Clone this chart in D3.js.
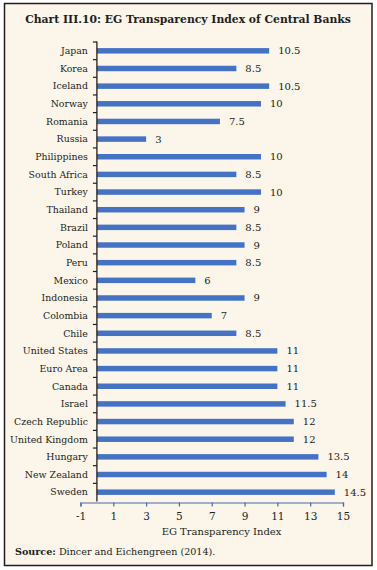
<!DOCTYPE html>
<html><head><meta charset="utf-8">
<script src="https://cdn.jsdelivr.net/npm/d3@7"></script>
<style>
html,body{margin:0;padding:0;background:#fff;}
svg{display:block;}
</style></head>
<body>
<script>
const categories = ["Japan","Korea","Iceland","Norway","Romania","Russia","Philippines","South Africa","Turkey","Thailand","Brazil","Poland","Peru","Mexico","Indonesia","Colombia","Chile","United States","Euro Area","Canada","Israel","Czech Republic","United Kingdom","Hungary","New Zealand","Sweden"];
const values = [10.5,8.5,10.5,10,7.5,3,10,8.5,10,9,8.5,9,8.5,6,9,7,8.5,11,11,11,11.5,12,12,13.5,14,14.5];
const xTicks = [-1,1,3,5,7,9,11,13,15];
const title = "Chart III.10: EG Transparency Index of Central Banks";
const xTitle = "EG Transparency Index";
const sourceLabel = "Source:";
const sourceText = " Dincer and Eichengreen (2014).";

const W = 377, H = 570;
const serif = "'DejaVu Serif', serif";
const svg = d3.select("body").append("svg").attr("width", W).attr("height", H);

svg.append("rect").attr("x", 4.5).attr("y", 3.5).attr("width", 367.5).attr("height", 562)
  .attr("fill", "#fbf5ea").attr("stroke", "#231f20").attr("stroke-width", 1.5);

svg.append("text").attr("x", 188).attr("y", 23).attr("text-anchor", "middle")
  .attr("font-family", serif).attr("font-weight", "bold").attr("font-size", 10.8)
  .attr("fill", "#231f20").text(title);

const x = d3.scaleLinear().domain([-1, 15]).range([80.5, 343]);
const y = d3.scaleBand().domain(categories).range([42, 501]).paddingInner(0.69).paddingOuter(0.345);

const g = svg.append("g");

// bars
g.selectAll("rect.bar").data(categories).enter().append("rect")
  .attr("class", "bar")
  .attr("x", x(0))
  .attr("y", d => y(d))
  .attr("width", (d, i) => x(values[i]) - x(0))
  .attr("height", y.bandwidth())
  .attr("fill", "#4472c4");

// value labels
g.selectAll("text.val").data(categories).enter().append("text")
  .attr("class", "val")
  .attr("x", (d, i) => x(values[i]) + 9)
  .attr("y", d => y(d) + y.bandwidth() / 2)
  .attr("dy", "0.35em")
  .attr("font-family", serif).attr("font-size", 10)
  .attr("fill", "#231f20")
  .text((d, i) => values[i]);

// x axis
const xAxis = d3.axisBottom(x).tickValues(xTicks).tickSize(4).tickPadding(6).tickFormat(d => String(d));
const xg = g.append("g").attr("transform", "translate(0,502.5)").call(xAxis);
xg.select(".domain").attr("stroke", "#4a6aa8").attr("stroke-width", 1.2);
xg.selectAll(".tick line").attr("stroke", "#4a6aa8").attr("stroke-width", 1.2);
xg.selectAll(".tick text").attr("font-family", serif).attr("font-size", 10.5).attr("fill", "#231f20");

// y axis (category) with ticks at band boundaries
const yl = g.append("g");
const bounds = d3.range(categories.length).map(i => y(categories[i]) - y.step() * y.paddingInner() / 2);
yl.append("line").attr("x1", x(0)).attr("x2", x(0)).attr("y1", 41.5).attr("y2", 501.5)
  .attr("stroke", "#231f20").attr("stroke-width", 1.3);
yl.selectAll("line.t").data(bounds).enter().append("line")
  .attr("x1", x(0) - 4).attr("x2", x(0)).attr("y1", d => d).attr("y2", d => d)
  .attr("stroke", "#231f20").attr("stroke-width", 1.2);
yl.selectAll("text").data(categories).enter().append("text")
  .attr("x", x(0) - 9)
  .attr("y", d => y(d) + y.bandwidth() / 2)
  .attr("dy", "0.35em")
  .attr("text-anchor", "end")
  .attr("font-family", serif).attr("font-size", 9.4)
  .attr("fill", "#231f20")
  .text(d => d);

svg.append("text").attr("x", 221.5).attr("y", 534.5).attr("text-anchor", "middle")
  .attr("font-family", serif).attr("font-size", 10).attr("fill", "#231f20").text(xTitle);

const src = svg.append("text").attr("x", 15).attr("y", 554.5)
  .attr("font-family", serif).attr("font-size", 9.6).attr("fill", "#231f20");
src.append("tspan").attr("font-weight", "bold").text(sourceLabel);
src.append("tspan").text(sourceText);
</script>
</body></html>
